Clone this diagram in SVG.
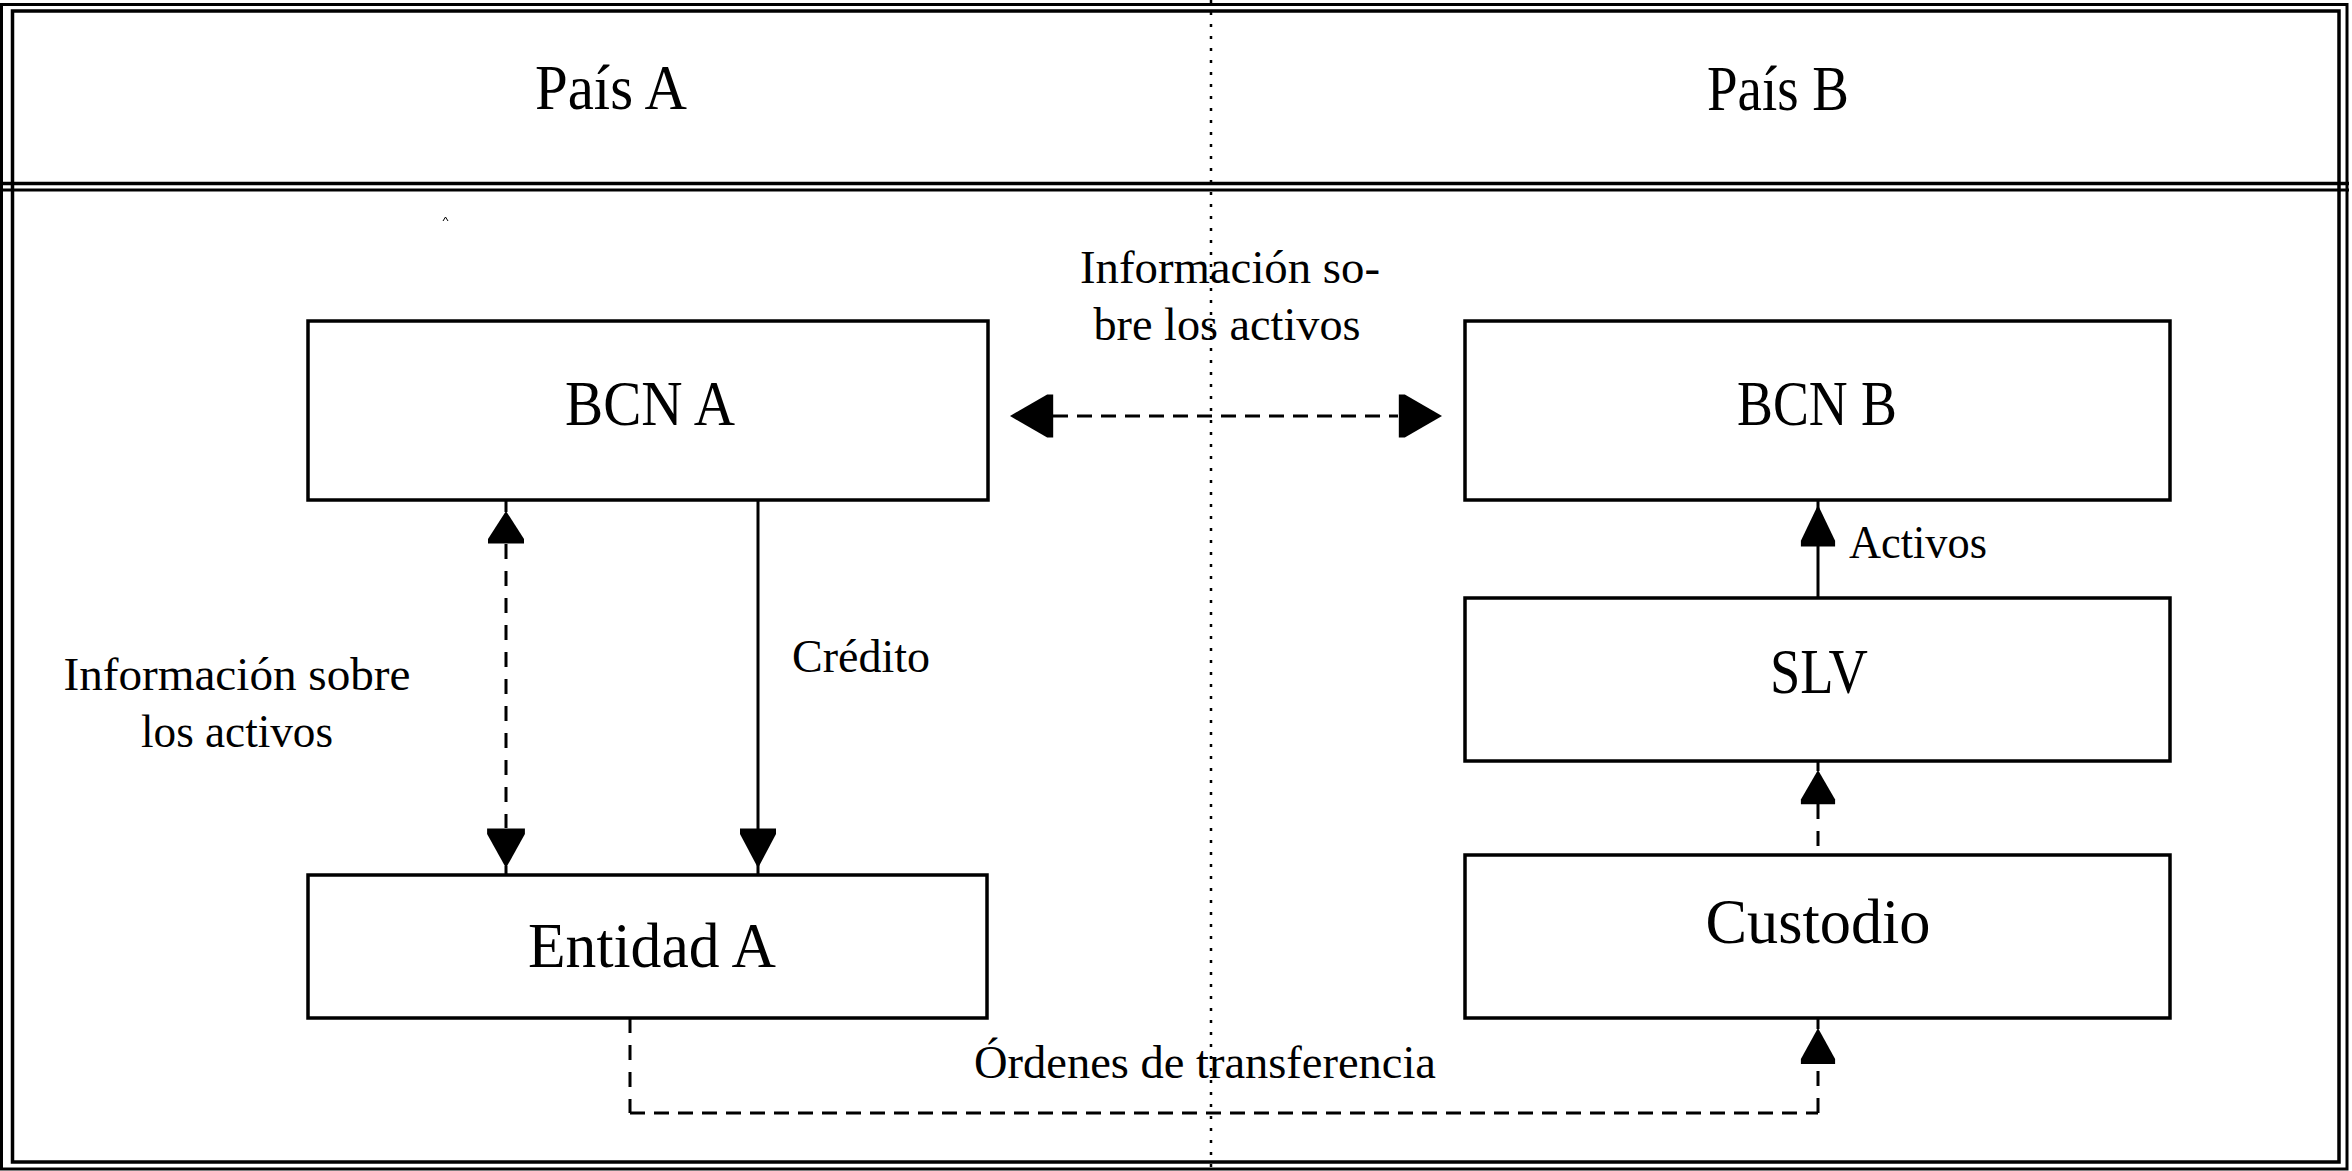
<svg xmlns="http://www.w3.org/2000/svg" xmlns:xlink="http://www.w3.org/1999/xlink" width="2352" height="1171" viewBox="0 0 2352 1171">
<style>
  .frame { fill: none; stroke: #000; }
  .box { fill: #fff; stroke: #000; stroke-width: 3.5; }
  .t { font-family: "Liberation Serif", "Times New Roman", serif; fill: #000; }
  .big { font-size: 64px; text-anchor: middle; }
  .lbl { font-size: 46px; }
  .mid { text-anchor: middle; }
  .solid { stroke: #000; stroke-width: 3; fill: none; }
  .dashv { stroke: #000; stroke-width: 3; fill: none; stroke-dasharray: 15 12; }
  .dashh { stroke: #000; stroke-width: 3; fill: none; stroke-dasharray: 15 9; }
  .dot { stroke: #000; stroke-width: 2.5; fill: none; stroke-dasharray: 3 9; }
</style>
<defs>
  <path id="ah" d="M0,0 L18,31 L18,36 L-18,36 L-18,31 Z" fill="#000"/>
</defs>
<rect width="2352" height="1171" fill="#fff"/>

<g id="frame">
  <rect class="frame" x="1.5" y="4.5" width="2345.5" height="1164.5" stroke-width="3"/>
  <rect class="frame" x="12.5" y="11" width="2326.5" height="1151" stroke-width="3.5"/>
  <line class="frame" x1="0" y1="183.5" x2="2349" y2="183.5" stroke-width="3.5"/>
  <line class="frame" x1="0" y1="190" x2="2349" y2="190" stroke-width="3"/>
  <line class="dot" x1="1211" y1="0" x2="1211" y2="1171"/>
  <polyline points="443,221 445.5,217 448,221" fill="none" stroke="#000" stroke-width="1"/>
</g>

<g id="headers">
  <text class="t big" x="611" y="109" textLength="152" lengthAdjust="spacingAndGlyphs">País A</text>
  <text class="t big" x="1778" y="110" textLength="142" lengthAdjust="spacingAndGlyphs">País B</text>
</g>

<g id="connectors">
  <!-- BCN A <-> BCN B -->
  <line class="dashh" x1="1053" y1="416" x2="1398" y2="416"/>
  <use xlink:href="#ah" transform="translate(1010,416) rotate(-90) scale(1.2)"/>
  <use xlink:href="#ah" transform="translate(1442,416) rotate(90) scale(1.2)"/>
  <!-- BCN A <-> Entidad A info -->
  <line class="solid" x1="506" y1="501" x2="506" y2="512"/>
  <line class="dashv" x1="506" y1="544" x2="506" y2="828"/>
  <line class="solid" x1="506" y1="866" x2="506" y2="875"/>
  <use xlink:href="#ah" transform="translate(506,511) scale(1,0.9)"/>
  <use xlink:href="#ah" transform="translate(506,868) rotate(180) scale(1.05,1.1)"/>
  <!-- Credito -->
  <line class="solid" x1="758" y1="501" x2="758" y2="875"/>
  <use xlink:href="#ah" transform="translate(758,868) rotate(180) scale(1,1.1)"/>
  <!-- Activos -->
  <line class="solid" x1="1818" y1="598" x2="1818" y2="501"/>
  <use xlink:href="#ah" transform="translate(1818,505) scale(0.95,1.15)"/>
  <!-- Custodio -> SLV -->
  <line class="solid" x1="1818" y1="761" x2="1818" y2="771"/>
  <line class="dashv" x1="1818" y1="804" x2="1818" y2="855"/>
  <use xlink:href="#ah" transform="translate(1818,770) scale(0.95,0.95)"/>
  <!-- Ordenes de transferencia -->
  <line class="dashv" x1="630" y1="1018" x2="630" y2="1113" stroke-width="2"/>
  <line class="dashh" x1="630" y1="1113" x2="1818" y2="1113"/>
  <line class="dashv" x1="1818" y1="1113" x2="1818" y2="1064"/>
  <line class="solid" x1="1818" y1="1018" x2="1818" y2="1029"/>
  <use xlink:href="#ah" transform="translate(1818,1028) scale(0.95,1.0)"/>
</g>

<g id="labels">
  <text class="t lbl mid" x="1230" y="283" textLength="300" lengthAdjust="spacingAndGlyphs">Información so-</text>
  <text class="t lbl mid" x="1227" y="340" textLength="267" lengthAdjust="spacingAndGlyphs">bre los activos</text>
  <text class="t lbl mid" x="237" y="690" textLength="347" lengthAdjust="spacingAndGlyphs">Información sobre</text>
  <text class="t lbl mid" x="237" y="747" textLength="192" lengthAdjust="spacingAndGlyphs">los activos</text>
  <text class="t lbl" x="792" y="672" textLength="138" lengthAdjust="spacingAndGlyphs">Crédito</text>
  <text class="t lbl" x="1849" y="558" textLength="138" lengthAdjust="spacingAndGlyphs">Activos</text>
  <text class="t lbl" x="974" y="1078" textLength="462" lengthAdjust="spacingAndGlyphs">Órdenes de transferencia</text>
</g>

<g id="bcn-a">
  <rect class="box" x="308" y="321" width="680" height="179"/>
  <text class="t big" x="650" y="425" textLength="170" lengthAdjust="spacingAndGlyphs">BCN A</text>
</g>
<g id="bcn-b">
  <rect class="box" x="1465" y="321" width="705" height="179"/>
  <text class="t big" x="1817" y="425" textLength="160" lengthAdjust="spacingAndGlyphs">BCN B</text>
</g>
<g id="slv">
  <rect class="box" x="1465" y="598" width="705" height="163"/>
  <text class="t big" x="1819" y="693" textLength="98" lengthAdjust="spacingAndGlyphs">SLV</text>
</g>
<g id="entidad-a">
  <rect class="box" x="308" y="875" width="679" height="143"/>
  <text class="t big" x="652" y="967" textLength="248" lengthAdjust="spacingAndGlyphs">Entidad A</text>
</g>
<g id="custodio">
  <rect class="box" x="1465" y="855" width="705" height="163"/>
  <text class="t big" x="1818" y="943" textLength="225" lengthAdjust="spacingAndGlyphs">Custodio</text>
</g>
</svg>
